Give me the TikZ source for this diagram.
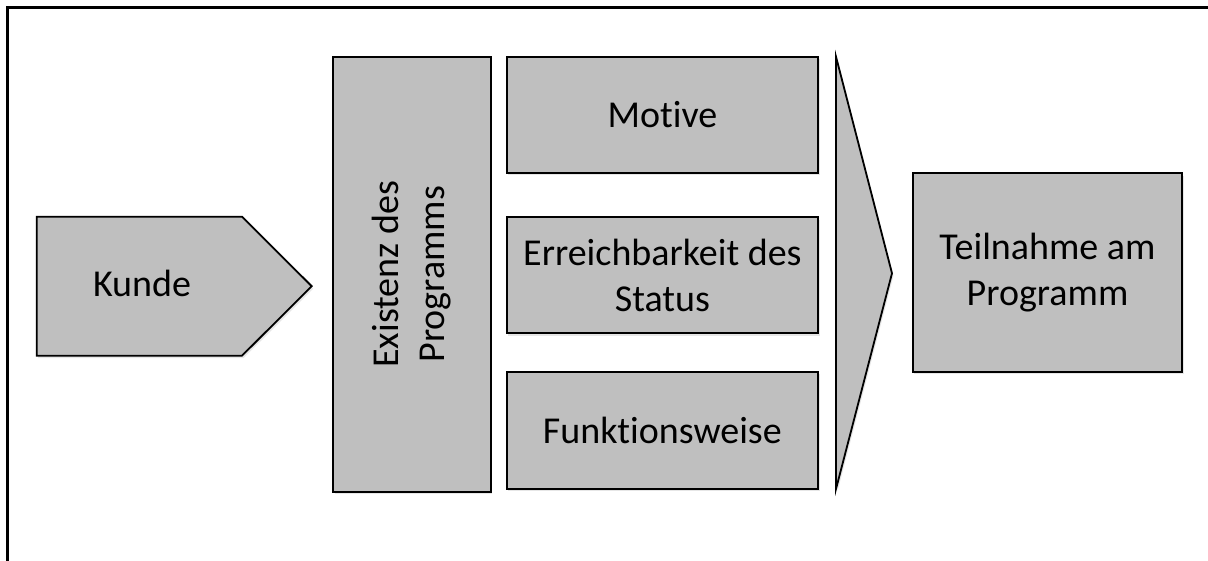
\documentclass[tikz,border=0pt]{standalone}
\usepackage{fontspec}
\setmainfont{Carlito}[Ligatures=NoCommon]
\usetikzlibrary{calc}
\usetikzlibrary{shadows}

\definecolor{boxgray}{RGB}{191,191,191}

\begin{document}
\begin{tikzpicture}[x=1pt, y=-1pt,
    stage/.style={draw, line width=1.8pt, fill=boxgray, inner sep=0pt, align=center,
        drop shadow={opacity=0.2, shadow xshift=1.5pt, shadow yshift=-2.5pt},
        font=\fontsize{38}{46}\selectfont},
    label/.style={align=center, font=\fontsize{38}{46}\selectfont}]
    \useasboundingbox (0,0) rectangle (1208,561);
    % frame
    \draw[line width=2.4pt] (7.5,561) -- (7.5,7.5) -- (1208,7.5);
    % customer
    \draw[line width=1.8pt, fill=boxgray, drop shadow={opacity=0.2, shadow xshift=1.5pt, shadow yshift=-2.5pt}]
        (36.7,216.7) -- (242,216.7) -- (311.7,286.2) -- (242,355.7) -- (36.7,355.7) -- cycle;
    \node[label] (kunde) at (142,283) {Kunde};
    % program
    \node[stage, minimum width=157.7, minimum height=435] (existenz) at (412,274.2) {};
    \node[label, rotate=90] (existenztext) at (existenz) {Existenz des\\Programms};
    \node[stage, minimum width=311.3, minimum height=116] (motive) at (662.4,114.7) {Motive};
    \node[stage, minimum width=311.3, minimum height=116] (status) at (662.4,275.3) {Erreichbarkeit des\\Status};
    \node[stage, minimum width=311.3, minimum height=116.7] (funktion) at (662.4,430.3) {Funktionsweise};
    % chevron
    \draw[line width=1.8pt, fill=boxgray, drop shadow={opacity=0.2, shadow xshift=1.5pt, shadow yshift=-2.5pt}]
        (836,56.7) -- (892,273.3) -- (836,489) -- cycle;
    % result
    \node[stage, minimum width=269.6, minimum height=198.4] (teilnahme) at (1047.5,272.5) {Teilnahme am\\Programm};
\end{tikzpicture}
\end{document}
